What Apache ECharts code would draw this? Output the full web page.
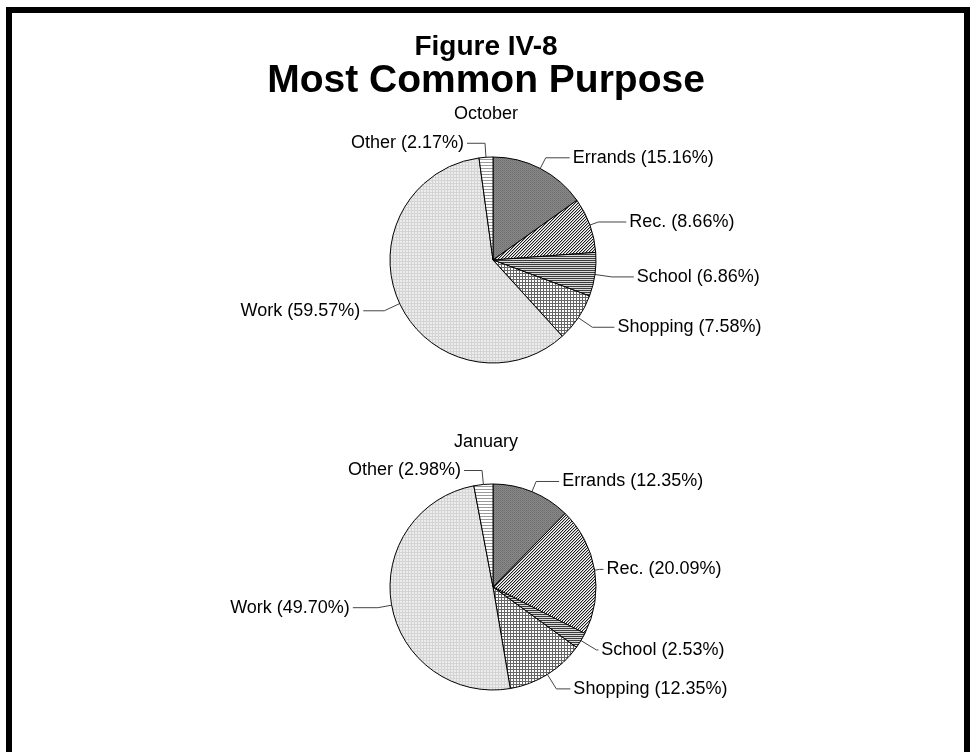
<!DOCTYPE html>
<html>
<head>
<meta charset="utf-8">
<script src="https://cdn.jsdelivr.net/npm/echarts@6/dist/echarts.min.js"></script>
<style>
  html, body { margin: 0; padding: 0; background: #fff; }
  #chart { width: 972px; height: 752px; }
</style>
</head>
<body>
<div id="chart"></div>
<script>
// Trip purpose shares (percent), slices run clockwise from 12 o'clock
const purposes = ['Errands', 'Rec.', 'School', 'Shopping', 'Work', 'Other'];
const octoberShares = [15.16, 8.66, 6.86, 7.58, 59.57, 2.17];
const januaryShares = [12.35, 20.09, 2.53, 12.35, 49.70, 2.98];

const figureLabel = 'Figure IV-8';
const mainTitle = 'Most Common Purpose';
const octoberTitle = 'October';
const januaryTitle = 'January';

// Leader line segment lengths [radial, horizontal] for each slice label
const octoberLeaders = [[12, 24], [9, 28], [17, 22], [17, 22], [17, 21], [14, 18]];
const januaryLeaders = [[11, 23], [5, 4], [18, 2], [17, 14], [14, 25], [14, 18]];

// Small repeating tiles used as monochrome fill patterns
function tile(w, h, draw) {
  const c = document.createElement('canvas');
  c.width = w; c.height = h;
  const ctx = c.getContext('2d');
  draw(ctx, w, h);
  return { image: c, repeat: 'repeat' };
}
function px(ctx, x, y, col) { ctx.fillStyle = col; ctx.fillRect(x, y, 1, 1); }

const fills = [
  // Errands: dark stippled gray
  tile(2, 2, (ctx) => {
    ctx.fillStyle = '#888888'; ctx.fillRect(0, 0, 2, 2);
    px(ctx, 0, 0, '#6e6e6e'); px(ctx, 1, 1, '#7a7a7a');
  }),
  // Rec.: fine diagonal hatch
  tile(3, 3, (ctx) => {
    ctx.fillStyle = '#ffffff'; ctx.fillRect(0, 0, 3, 3);
    for (let y = 0; y < 3; y++) for (let x = 0; x < 3; x++) {
      const k = (x + y) % 3;
      if (k === 0) px(ctx, x, y, '#1e1e1e');
      else if (k === 1) px(ctx, x, y, '#b4b4b4');
    }
  }),
  // School: dense horizontal stripes
  tile(2, 2, (ctx) => {
    ctx.fillStyle = '#d8d8d8'; ctx.fillRect(0, 0, 2, 2);
    ctx.fillStyle = '#3c3c3c'; ctx.fillRect(0, 0, 2, 1);
  }),
  // Shopping: small square grid
  tile(3, 3, (ctx) => {
    ctx.fillStyle = '#ffffff'; ctx.fillRect(0, 0, 3, 3);
    ctx.fillStyle = '#666666'; ctx.fillRect(0, 0, 3, 1); ctx.fillRect(0, 0, 1, 3);
  }),
  // Work: light dotted gray
  tile(3, 3, (ctx) => {
    ctx.fillStyle = '#ececec'; ctx.fillRect(0, 0, 3, 3);
    ctx.fillStyle = '#d4d4d4'; ctx.fillRect(0, 0, 3, 1); ctx.fillRect(0, 0, 1, 3);
  }),
  // Other: sparse horizontal lines
  tile(3, 3, (ctx) => {
    ctx.fillStyle = '#ffffff'; ctx.fillRect(0, 0, 3, 3);
    ctx.fillStyle = '#9a9a9a'; ctx.fillRect(0, 0, 3, 1);
  })
];

function pieData(values, leaders) {
  return purposes.map((name, i) => ({
    name: name,
    value: values[i],
    itemStyle: { color: fills[i] },
    labelLine: { length: leaders[i][0], length2: leaders[i][1] }
  }));
}

const font = '"Liberation Sans", Arial, Helvetica, sans-serif';

function pieSeries(values, leaders, center) {
  return {
    type: 'pie',
    radius: 103,
    center: center,
    startAngle: 90,
    clockwise: true,
    data: pieData(values, leaders),
    itemStyle: { borderColor: '#000', borderWidth: 1 },
    label: {
      show: true,
      position: 'outside',
      color: '#000',
      fontFamily: font,
      fontSize: 18,
      distanceToLabelLine: 3,
      formatter: (p) => p.name + ' (' + p.value.toFixed(2) + '%)'
    },
    labelLine: {
      show: true,
      smooth: false,
      lineStyle: { color: '#444', width: 1 }
    },
    emphasis: { disabled: true }
  };
}

const chart = echarts.init(document.getElementById('chart'), null, { renderer: 'canvas' });
chart.setOption({
  animation: false,
  backgroundColor: '#fff',
  title: [
    { text: figureLabel, left: 'center', top: 33, padding: 0,
      textStyle: { fontFamily: font, fontSize: 28, fontWeight: 'bold', color: '#000' } },
    { text: mainTitle, left: 'center', top: 62, padding: 0,
      textStyle: { fontFamily: font, fontSize: 39, fontWeight: 'bold', color: '#000' } },
    { text: octoberTitle, left: 'center', top: 105, padding: 0,
      textStyle: { fontFamily: font, fontSize: 18, fontWeight: 'normal', color: '#000' } },
    { text: januaryTitle, left: 'center', top: 433, padding: 0,
      textStyle: { fontFamily: font, fontSize: 18, fontWeight: 'normal', color: '#000' } }
  ],
  graphic: [
    { type: 'rect', shape: { x: 9, y: 10, width: 958, height: 800 },
      style: { fill: 'none', stroke: '#000', lineWidth: 6 }, silent: true }
  ],
  series: [
    pieSeries(octoberShares, octoberLeaders, [493, 260]),
    pieSeries(januaryShares, januaryLeaders, [493, 587])
  ]
});
</script>
</body>
</html>
